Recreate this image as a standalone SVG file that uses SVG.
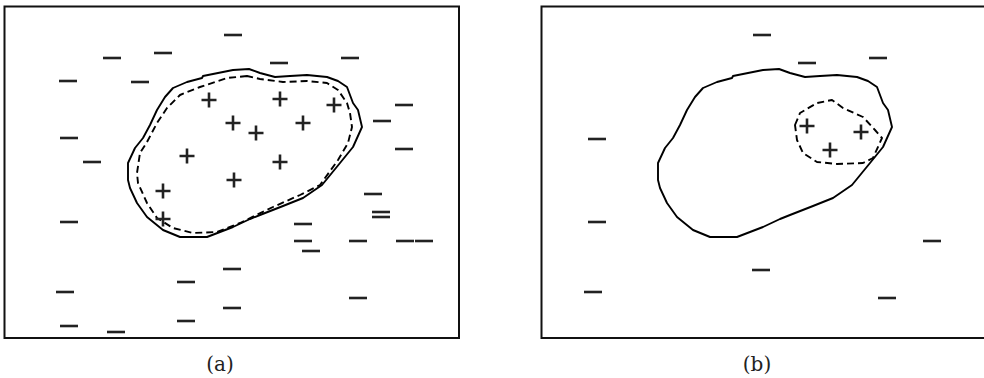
<svg xmlns="http://www.w3.org/2000/svg" width="984" height="378" viewBox="0 0 984 378">
<style>
.frame{fill:none;stroke:#111;stroke-width:2}
.solid{fill:none;stroke:#000;stroke-width:1.9;stroke-linejoin:round}
.dash{fill:none;stroke:#000;stroke-width:1.9;stroke-dasharray:7 4;stroke-linejoin:round}
.m{stroke:#222;stroke-width:2.6}
.p{stroke:#222;stroke-width:2.6}
.lbl{font-family:"DejaVu Serif","Liberation Serif",serif;font-size:20px;fill:#222;text-anchor:middle}
</style>
<defs>
<path id="minus" d="M-9,0 H9" class="m"/>
<path id="plus" d="M-7.5,0 H7.5 M0,-7.5 V7.5" class="p"/>
</defs>
<rect width="984" height="378" fill="#fff"/>
<g id="panel-a">
<rect class="frame" x="4.5" y="6.5" width="454.5" height="331.5"/>
<path class="solid" d="M249,69 L233,70 L213,74 L203,76 L202,78 L187,82 L173,88 L165,97 L157,110 L150,125 L143,138 L135,148 L128,163 L128,180 L130,188 L137,203 L147,217 L163,230 L180,237 L207,237 L233,227 L250,219 L260,215 L283,206 L303,198 L322,185 L340,163 L353,147 L362,127 L358,110 L353,103 L347,87 L338,81 L327,77 L307,75 L290,76 L275,77 L260,73 Z"/>
<path class="dash" d="M247,76 L227,78 L200,87 L180,95 L167,108 L157,123 L147,142 L140,153 L137,173 L138,183 L147,203 L157,218 L173,228 L193,233 L217,232 L240,223 L273,207 L300,195 L320,185 L338,160 L348,143 L352,127 L350,113 L347,103 L338,90 L327,83 L307,81 L283,82 L260,79 Z"/>
<use href="#plus" x="209" y="100"/>
<use href="#plus" x="280" y="99"/>
<use href="#plus" x="334" y="105"/>
<use href="#plus" x="233" y="123"/>
<use href="#plus" x="256" y="133"/>
<use href="#plus" x="303" y="123"/>
<use href="#plus" x="187" y="156"/>
<use href="#plus" x="280" y="162"/>
<use href="#plus" x="234" y="180"/>
<use href="#plus" x="163" y="191"/>
<use href="#plus" x="163" y="219"/>
<use href="#minus" x="233" y="35"/>
<use href="#minus" x="112" y="58"/>
<use href="#minus" x="163" y="53"/>
<use href="#minus" x="68" y="81"/>
<use href="#minus" x="140" y="82"/>
<use href="#minus" x="69" y="138"/>
<use href="#minus" x="92" y="162"/>
<use href="#minus" x="279" y="63"/>
<use href="#minus" x="350" y="58"/>
<use href="#minus" x="404" y="105"/>
<use href="#minus" x="382" y="121"/>
<use href="#minus" x="404" y="149"/>
<use href="#minus" x="69" y="222"/>
<use href="#minus" x="65" y="292"/>
<use href="#minus" x="69" y="326"/>
<use href="#minus" x="116" y="332"/>
<use href="#minus" x="186" y="282"/>
<use href="#minus" x="186" y="321"/>
<use href="#minus" x="232" y="269"/>
<use href="#minus" x="232" y="308"/>
<use href="#minus" x="373" y="194"/>
<use href="#minus" x="381" y="212"/>
<use href="#minus" x="381" y="217"/>
<use href="#minus" x="303" y="224"/>
<use href="#minus" x="303" y="241"/>
<use href="#minus" x="311" y="251"/>
<use href="#minus" x="358" y="241"/>
<use href="#minus" x="405" y="241"/>
<use href="#minus" x="424" y="241"/>
<use href="#minus" x="358" y="298"/>
<text class="lbl" x="220" y="371">(a)</text>
</g>
<g id="panel-b">
<rect class="frame" x="541.5" y="6.5" width="450" height="331.5"/>
<path class="solid" transform="translate(530,0)" d="M249,69 L233,70 L213,74 L203,76 L202,78 L187,82 L173,88 L165,97 L157,110 L150,125 L143,138 L135,148 L128,163 L128,180 L130,188 L137,203 L147,217 L163,230 L180,237 L207,237 L233,227 L250,219 L260,215 L283,206 L303,198 L322,185 L340,163 L353,147 L362,127 L358,110 L353,103 L347,87 L338,81 L327,77 L307,75 L290,76 L275,77 L260,73 Z"/>
<path class="dash" d="M795,125 L800,113 L817,103 L832,100 L843,108 L863,117 L875,130 L882,138 L873,158 L863,163 L837,164 L817,162 L803,153 L797,140 Z"/>
<use href="#plus" x="807" y="126"/>
<use href="#plus" x="861" y="132"/>
<use href="#plus" x="830" y="150"/>
<use href="#minus" x="762" y="35"/>
<use href="#minus" x="807" y="63"/>
<use href="#minus" x="878" y="58"/>
<use href="#minus" x="597" y="139"/>
<use href="#minus" x="597" y="222"/>
<use href="#minus" x="593" y="292"/>
<use href="#minus" x="761" y="270"/>
<use href="#minus" x="932" y="241"/>
<use href="#minus" x="887" y="298"/>
<text class="lbl" x="757" y="371">(b)</text>
</g>
</svg>
